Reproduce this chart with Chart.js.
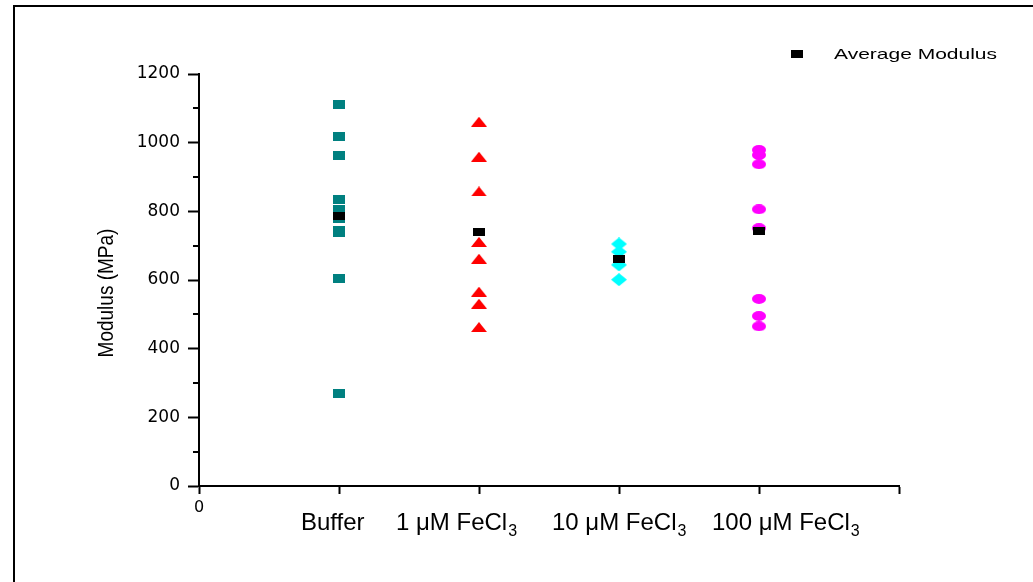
<!DOCTYPE html>
<html>
<head>
<meta charset="utf-8">
<script src="https://cdn.jsdelivr.net/npm/chart.js@4.4.0/dist/chart.umd.min.js"></script>
<style>
  html, body { margin: 0; padding: 0; background: #fff; }
  #wrap { position: relative; width: 1033px; height: 582px; overflow: hidden; }
  #chart { position: absolute; left: 0; top: 0; }
  #frame {
    position: absolute; left: 13px; top: 5px; right: -5px; bottom: -5px;
    border-left: 2px solid #000; border-top: 2px solid #000; pointer-events: none;
  }
</style>
</head>
<body>
<div id="wrap">
  <canvas id="chart" width="1033" height="582"></canvas>
  <div id="frame"></div>
</div>
<script>
// groups along the x axis
const groupNames = ["Buffer", "1 \u03bcM FeCl", "10 \u03bcM FeCl", "100 \u03bcM FeCl"];
const groupSubs = ["", "3", "3", "3"];
const groupX = [1, 2, 3, 4];

// modulus readings (MPa)
const bufferValues = [1111, 1017, 964, 835, 805, 780, 744, 737, 603, 269];
const fe1Values = [1061, 959, 858, 711, 662, 566, 531, 463];
const fe10Values = [705, 682, 644, 601];
const fe100Values = [979, 964, 937, 806, 751, 545, 495, 465];
const averageValues = [786, 739, 661, 743];

const yTicks = [0, 200, 400, 600, 800, 1000, 1200];
const yTitle = "Modulus (MPa)";

const makeMarker = (shape, w, h, color) => {
  const c = document.createElement("canvas");
  c.width = w;
  c.height = h;
  const g = c.getContext("2d");
  g.fillStyle = color;
  g.beginPath();
  if (shape === "rect") {
    g.rect(0, 0, w, h);
  } else if (shape === "triangle") {
    g.moveTo(w / 2, 0);
    g.lineTo(w, h);
    g.lineTo(0, h);
    g.closePath();
  } else if (shape === "diamond") {
    g.moveTo(w / 2, 0);
    g.lineTo(w, h / 2);
    g.lineTo(w / 2, h);
    g.lineTo(0, h / 2);
    g.closePath();
  } else {
    g.ellipse(w / 2, h / 2, w / 2, h / 2, 0, 0, Math.PI * 2);
  }
  g.fill();
  return c;
};

const toPoints = (x, values) => values.map((v) => ({ x: x, y: v }));

const avgMarker = makeMarker("rect", 12, 8, "#000000");

const datasets = [
  {
    label: "Average Modulus",
    data: averageValues.map((v, i) => ({ x: groupX[i], y: v })),
    pointStyle: avgMarker,
  },
  { label: groupNames[0], data: toPoints(groupX[0], bufferValues), pointStyle: makeMarker("rect", 12, 9, "#008080") },
  { label: groupNames[1], data: toPoints(groupX[1], fe1Values), pointStyle: makeMarker("triangle", 16, 10, "#ff0000") },
  { label: groupNames[2], data: toPoints(groupX[2], fe10Values), pointStyle: makeMarker("diamond", 16, 13, "#00ffff") },
  { label: groupNames[3], data: toPoints(groupX[3], fe100Values), pointStyle: makeMarker("ellipse", 14, 10, "#ff00ff") },
];
datasets.forEach((d) => {
  d.pointRadius = 5;
  d.pointHoverRadius = 5;
  d.showLine = false;
});

// label start offsets from each tick, px
const labelShift = [-38, -83, -67, -47];

const extrasPlugin = {
  id: "extras",
  afterDraw(chart) {
    const ctx = chart.ctx;
    const xs = chart.scales.x;
    const ys = chart.scales.y;
    const area = chart.chartArea;
    ctx.save();

    // minor ticks on the y axis
    ctx.strokeStyle = "#000";
    ctx.lineWidth = 2;
    for (let v = 100; v < 1200; v += 200) {
      const py = Math.round(ys.getPixelForValue(v));
      ctx.beginPath();
      ctx.moveTo(area.left - 6, py);
      ctx.lineTo(area.left, py);
      ctx.stroke();
    }

    // category labels with subscript
    ctx.fillStyle = "#000";
    ctx.textBaseline = "alphabetic";
    ctx.textAlign = "left";
    groupNames.forEach((name, i) => {
      let px = xs.getPixelForValue(groupX[i]) + labelShift[i];
      const base = 530;
      ctx.font = "24px 'Liberation Sans', Arial, sans-serif";
      ctx.fillText(name, px, base);
      px += ctx.measureText(name).width + 1;
      if (groupSubs[i]) {
        ctx.font = "16px 'Liberation Sans', Arial, sans-serif";
        ctx.fillText(groupSubs[i], px, base + 6);
      }
    });

    // y axis title
    ctx.save();
    ctx.translate(107, (area.top + area.bottom) / 2 + 13);
    ctx.rotate(-Math.PI / 2);
    ctx.scale(1, 1.12);
    ctx.textAlign = "center";
    ctx.textBaseline = "middle";
    ctx.font = "19px 'Liberation Sans', Arial, sans-serif";
    ctx.fillText(yTitle, 0, 0);
    ctx.restore();

    // legend
    const lx = 797, ly = 54;
    ctx.drawImage(avgMarker, lx - avgMarker.width / 2, ly - avgMarker.height / 2);
    ctx.save();
    ctx.translate(834, ly + 1);
    ctx.scale(1.4, 1);
    ctx.font = "15px 'Liberation Sans', Arial, sans-serif";
    ctx.textBaseline = "middle";
    ctx.fillText(chart.data.datasets[0].label, 0, 0);
    ctx.restore();

    ctx.restore();
  },
};

new Chart(document.getElementById("chart"), {
  type: "scatter",
  data: { datasets: datasets },
  plugins: [extrasPlugin],
  options: {
    responsive: false,
    animation: false,
    events: [],
    layout: { autoPadding: false, padding: { left: 0, top: 74, right: 134, bottom: 0 } },
    plugins: {
      legend: { display: false },
      tooltip: { enabled: false },
    },
    scales: {
      x: {
        type: "linear",
        min: 0,
        max: 5,
        afterFit: (scale) => {
          scale.height = 96;
        },
        ticks: {
          stepSize: 1,
          padding: 4,
          color: "#000",
          font: { family: "DejaVu Sans", size: 16 },
          callback: (value) => (value === 0 ? "0" : ""),
        },
        grid: {
          drawOnChartArea: false,
          drawTicks: true,
          tickLength: 8,
          tickWidth: 2,
          tickColor: "#000",
        },
        border: { display: true, color: "#000", width: 2 },
      },
      y: {
        min: 0,
        max: 1200,
        afterFit: (scale) => {
          scale.width = 199;
        },
        ticks: {
          stepSize: 100,
          padding: 8,
          color: "#000",
          font: { family: "DejaVu Sans", size: 17 },
          callback: (value) => (yTicks.includes(value) ? String(value) : ""),
        },
        grid: {
          drawOnChartArea: false,
          drawTicks: true,
          tickLength: 11,
          tickWidth: 2,
          tickColor: (c) => (c.tick && yTicks.includes(c.tick.value) ? "#000" : "rgba(0,0,0,0)"),
        },
        border: { display: true, color: "#000", width: 2 },
      },
    },
  },
});
</script>
</body>
</html>
